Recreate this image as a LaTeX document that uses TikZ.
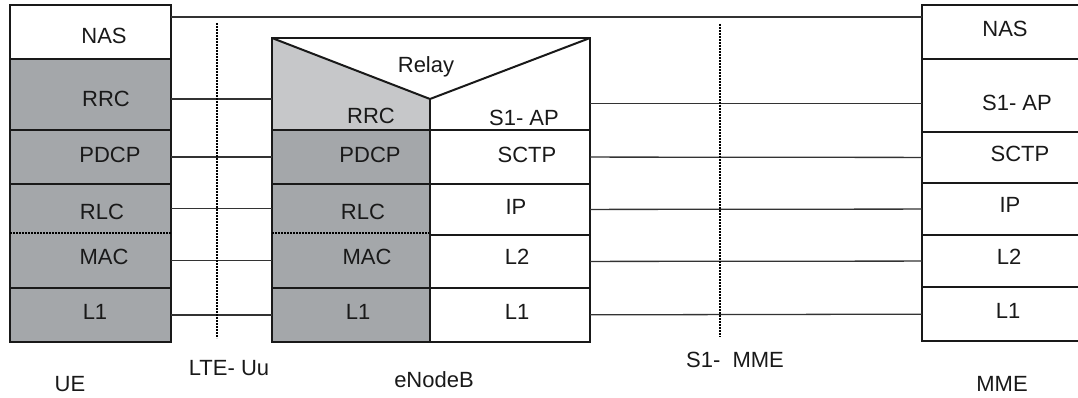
\documentclass[tikz,border=0pt]{standalone}
\usepackage{fontspec}
\setmainfont{Liberation Sans}
\definecolor{layergray}{HTML}{A4A7AA}
\definecolor{relaygray}{HTML}{C6C7C9}
\begin{document}
\begin{tikzpicture}[x=1pt,y=-1pt,
  layer/.style={draw=black!90, line width=2pt, inner sep=0pt, outer sep=0pt, minimum width=#1},
  grey/.style={fill=layergray},
  frame/.style={draw=black!90, line width=2pt},
  txt/.style={font=\fontsize{22}{26}\selectfont, inner sep=0pt, text=black!90},
  link/.style={line width=1.3pt, draw=black!80},
  iface/.style={line width=2.2pt, draw=black, dash pattern=on 2pt off 1pt}]

\useasboundingbox (0,0) rectangle (1078,398);

%--------------- UE ----------------------
\node[layer=161pt, minimum height=54pt] (ueNAS) at (90.5,32) {};
\node[layer=161pt, minimum height=71pt, grey] (ueRRC) at (90.5,94.5) {};
\node[layer=161pt, minimum height=54pt, grey] (uePDCP) at (90.5,157) {};
\node[layer=161pt, minimum height=49pt, grey, draw=none] (ueRLC) at (90.5,208.5) {};
\node[layer=161pt, minimum height=55pt, grey, draw=none] (ueMAC) at (90.5,260.5) {};
\node[layer=161pt, minimum height=54pt, grey] (ueL1) at (90.5,315) {};

\draw[frame] (ueRLC.north west) rectangle (ueMAC.south east);
\draw[iface] (ueRLC.south west) -- (ueRLC.south east);

\node[txt] (tueNAS) at (104,36) {NAS};
\node[txt] (tueRRC) at (106,98.5) {RRC};
\node[txt] (tuePDCP) at (110,155) {PDCP};
\node[txt] (tueRLC) at (102,212) {RLC};
\node[txt] (tueMAC) at (104,257) {MAC};
\node[txt] (tueL1) at (95,312) {L1};

\node[txt] (tUE) at (70,384) {UE};

%--------------- eNodeB ----------------------
\node[layer=318pt, minimum height=92pt, draw=none] (enbTop) at (431,84) {};
\coordinate (relayTip) at (430,99);

\fill[relaygray] (enbTop.north west) -- (relayTip) -- (relayTip |- enbTop.south)
  -- (enbTop.south west) -- cycle;
\draw[frame] (enbTop.north west) rectangle (enbTop.south east);
\draw[frame] (enbTop.north west) -- (relayTip) -- (enbTop.north east);
\draw[frame] (relayTip) -- (relayTip |- enbTop.south);

\node[layer=158pt, minimum height=54pt, grey] (enbPDCP) at (351,157) {};
\node[layer=158pt, minimum height=49pt, grey, draw=none] (enbRLC) at (351,208.5) {};
\node[layer=158pt, minimum height=55pt, grey, draw=none] (enbMAC) at (351,260.5) {};
\node[layer=158pt, minimum height=54pt, grey] (enbL1) at (351,315) {};

\draw[frame] (enbRLC.north west) rectangle (enbMAC.south east);
\draw[iface] (enbRLC.south west) -- (enbRLC.south east);

\node[layer=160pt, minimum height=54pt] (enbSCTP) at (510,157) {};
\node[layer=160pt, minimum height=51pt] (enbIP) at (510,209.5) {};
\node[layer=160pt, minimum height=53pt] (enbL2) at (510,261.5) {};
\node[layer=160pt, minimum height=54pt] (enbL1b) at (510,315) {};

\node[txt] (tRelay) at (426,66.5) {Relay};
\node[txt] (tenbRRC) at (371,116) {RRC};
\node[txt] (tenbS1AP) at (524,117.5) {S1- AP};
\node[txt] (tenbPDCP) at (370,154.5) {PDCP};
\node[txt] (tenbSCTP) at (527,155) {SCTP};
\node[txt] (tenbRLC) at (363,212) {RLC};
\node[txt] (tenbIP) at (516,206.5) {IP};
\node[txt] (tenbMAC) at (367,257) {MAC};
\node[txt] (tenbL2) at (517,257) {L2};
\node[txt] (tenbL1) at (358,312) {L1};
\node[txt] (tenbL1b) at (517,312) {L1};

\node[txt] (teNodeB) at (434,380) {eNodeB};

%--------------- MME ----------------------
\node[layer=160pt, minimum height=54pt] (mmeNAS) at (1002,32) {};
\node[layer=160pt, minimum height=73pt] (mmeS1AP) at (1002,95.5) {};
\node[layer=160pt, minimum height=51pt] (mmeSCTP) at (1002,157.5) {};
\node[layer=160pt, minimum height=52pt] (mmeIP) at (1002,209) {};
\node[layer=160pt, minimum height=52pt] (mmeL2) at (1002,261) {};
\node[layer=160pt, minimum height=54pt] (mmeL1) at (1002,314) {};

\node[txt] (tmmeNAS) at (1005,29) {NAS};
\node[txt] (tmmeS1AP) at (1017,103) {S1- AP};
\node[txt] (tmmeSCTP) at (1020,153.5) {SCTP};
\node[txt] (tmmeIP) at (1010,205) {IP};
\node[txt] (tmmeL2) at (1009,256.5) {L2};
\node[txt] (tmmeL1) at (1008,311) {L1};

\node[txt] (tMME) at (1002,383.5) {MME};

%--------------- links ----------------------
\coordinate (nasY) at ([yshift=-12pt]ueNAS.north east);
\draw[link] (nasY) -- (mmeNAS.west |- nasY);

\draw[link] (ueRRC.east |- relayTip) -- (enbTop.west |- relayTip);
\draw[link] (uePDCP) edge (enbPDCP);
\draw[link] (ueRLC) edge (enbRLC);
\draw[link] (ueMAC) edge (enbMAC);
\draw[link] (ueL1) edge (enbL1);

\coordinate (s1apY) at ([yshift=-8pt]mmeS1AP.west);
\draw[link] (enbTop.east |- s1apY) -- (s1apY);
\draw[link] (enbSCTP) edge (mmeSCTP);
\draw[link] (enbIP) edge (mmeIP);
\draw[link] (enbL2) edge (mmeL2);
\draw[link] (enbL1b) edge (mmeL1);

%--------------- interfaces ----------------------
\coordinate (uuTop) at (217,23);
\coordinate (uuBot) at (217,338);
\coordinate (s1Top) at (720,24);
\coordinate (s1Bot) at (720,337);

\draw[iface] (uuTop) -- (uuBot);
\draw[iface] (s1Top) -- (s1Bot);

\node[txt] (tUu) at (229,368) {LTE- Uu};
\node[txt] (tS1MME) at (735,360) {S1-~~MME};

\end{tikzpicture}
\end{document}
